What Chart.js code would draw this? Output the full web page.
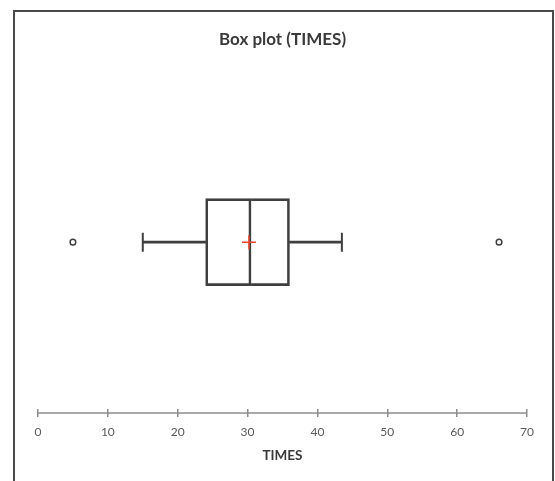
<!DOCTYPE html>
<html>
<head>
<meta charset="utf-8">
<script src="https://cdn.jsdelivr.net/npm/chart.js@4.4.1/dist/chart.umd.min.js"></script>
<style>
  html, body { margin: 0; padding: 0; background: #ffffff; }
  #wrap { position: relative; width: 555px; height: 481px; }
  #frame { position: absolute; left: 13px; top: 10px; width: 537px; height: 480px;
           border: 2px solid #4a4a4a; border-bottom: none; pointer-events: none; }
  canvas { position: absolute; left: 0; top: 0; }
</style>
</head>
<body>
<div id="wrap">
  <canvas id="c" width="555" height="481"></canvas>
  <div id="frame"></div>
</div>
<script>
// ---- data ----
const categories = ['TIMES'];
const minWhisker = [15];
const q1 = [24];
const median = [30.5];
const q3 = [36];
const maxWhisker = [43.5];
const means = [30.2];
const outliers = [5, 66];
const xTickMin = 0;
const xTickMax = 70;
const xTickStep = 10;

const dark = '#3f3f3f';

const axisLinePlugin = {
  id: 'axisLine',
  afterDraw(chart) {
    const s = chart.scales.x;
    const ctx = chart.ctx;
    const y = s.top + s.options.grid.tickLength / 2;
    ctx.save();
    ctx.strokeStyle = '#8c8c8c';
    ctx.lineWidth = 1.5;
    ctx.beginPath();
    ctx.moveTo(s.getPixelForValue(xTickMin), y);
    ctx.lineTo(s.getPixelForValue(xTickMax), y);
    ctx.stroke();
    ctx.restore();
  }
};

new Chart(document.getElementById('c'), {
  type: 'bar',
  data: {
    labels: categories,
    datasets: [
      { label: 'whisker low', data: categories.map((c, i) => [minWhisker[i], q1[i]]),
        backgroundColor: dark, borderWidth: 0, barThickness: 2, grouped: false, order: 3 },
      { label: 'whisker high', data: categories.map((c, i) => [q3[i], maxWhisker[i]]),
        backgroundColor: dark, borderWidth: 0, barThickness: 2, grouped: false, order: 3 },
      { label: 'box low', data: categories.map((c, i) => [q1[i], median[i]]),
        backgroundColor: 'rgba(255,255,255,0)', borderColor: dark, borderWidth: 2,
        borderSkipped: false, barThickness: 87, grouped: false, order: 2 },
      { label: 'box high', data: categories.map((c, i) => [median[i], q3[i]]),
        backgroundColor: 'rgba(255,255,255,0)', borderColor: dark, borderWidth: 2,
        borderSkipped: 'left', barThickness: 87, grouped: false, order: 2 },
      { type: 'scatter', label: 'caps',
        data: categories.flatMap((c, i) => [{ x: minWhisker[i], y: c }, { x: maxWhisker[i], y: c }]),
        pointStyle: 'line', rotation: 90, radius: 9.5, borderColor: dark, borderWidth: 2, order: 1 },
      { type: 'scatter', label: 'mean',
        data: categories.map((c, i) => ({ x: means[i], y: c })),
        pointStyle: 'cross', radius: 7, borderColor: '#e8462a', borderWidth: 1.5, order: 0 },
      { type: 'scatter', label: 'outliers',
        data: outliers.map(v => ({ x: v, y: categories[0] })),
        pointStyle: 'circle', radius: 2.8, borderColor: dark, backgroundColor: '#ffffff', borderWidth: 1.5, order: 0 }
    ]
  },
  plugins: [axisLinePlugin],
  options: {
    indexAxis: 'y',
    responsive: false,
    animation: false,
    layout: { padding: { left: 38, right: 28, top: 0, bottom: 13.5 } },
    plugins: {
      legend: { display: false },
      tooltip: { enabled: false },
      title: {
        display: true, text: 'Box plot (TIMES)', fullSize: false,
        color: '#3a3a3a',
        font: { family: 'Lato', size: 17, weight: 'bold', lineHeight: 1.2 },
        padding: { top: 29, bottom: 26 }
      }
    },
    scales: {
      y: { type: 'category', display: false },
      x: {
        type: 'linear', min: xTickMin, max: xTickMax,
        border: { display: false },
        grid: { display: true, drawOnChartArea: false, drawTicks: true, tickLength: 8,
                color: '#8c8c8c', lineWidth: 1.5 },
        ticks: { stepSize: xTickStep, padding: 8, color: '#595959',
                 font: { family: 'Lato', size: 12 } },
        title: { display: true, text: 'TIMES', color: '#3a3a3a',
                 font: { family: 'Lato', size: 13.5, weight: 'bold' },
                 padding: { top: 0, bottom: 4 } }
      }
    }
  }
});
</script>
</body>
</html>
